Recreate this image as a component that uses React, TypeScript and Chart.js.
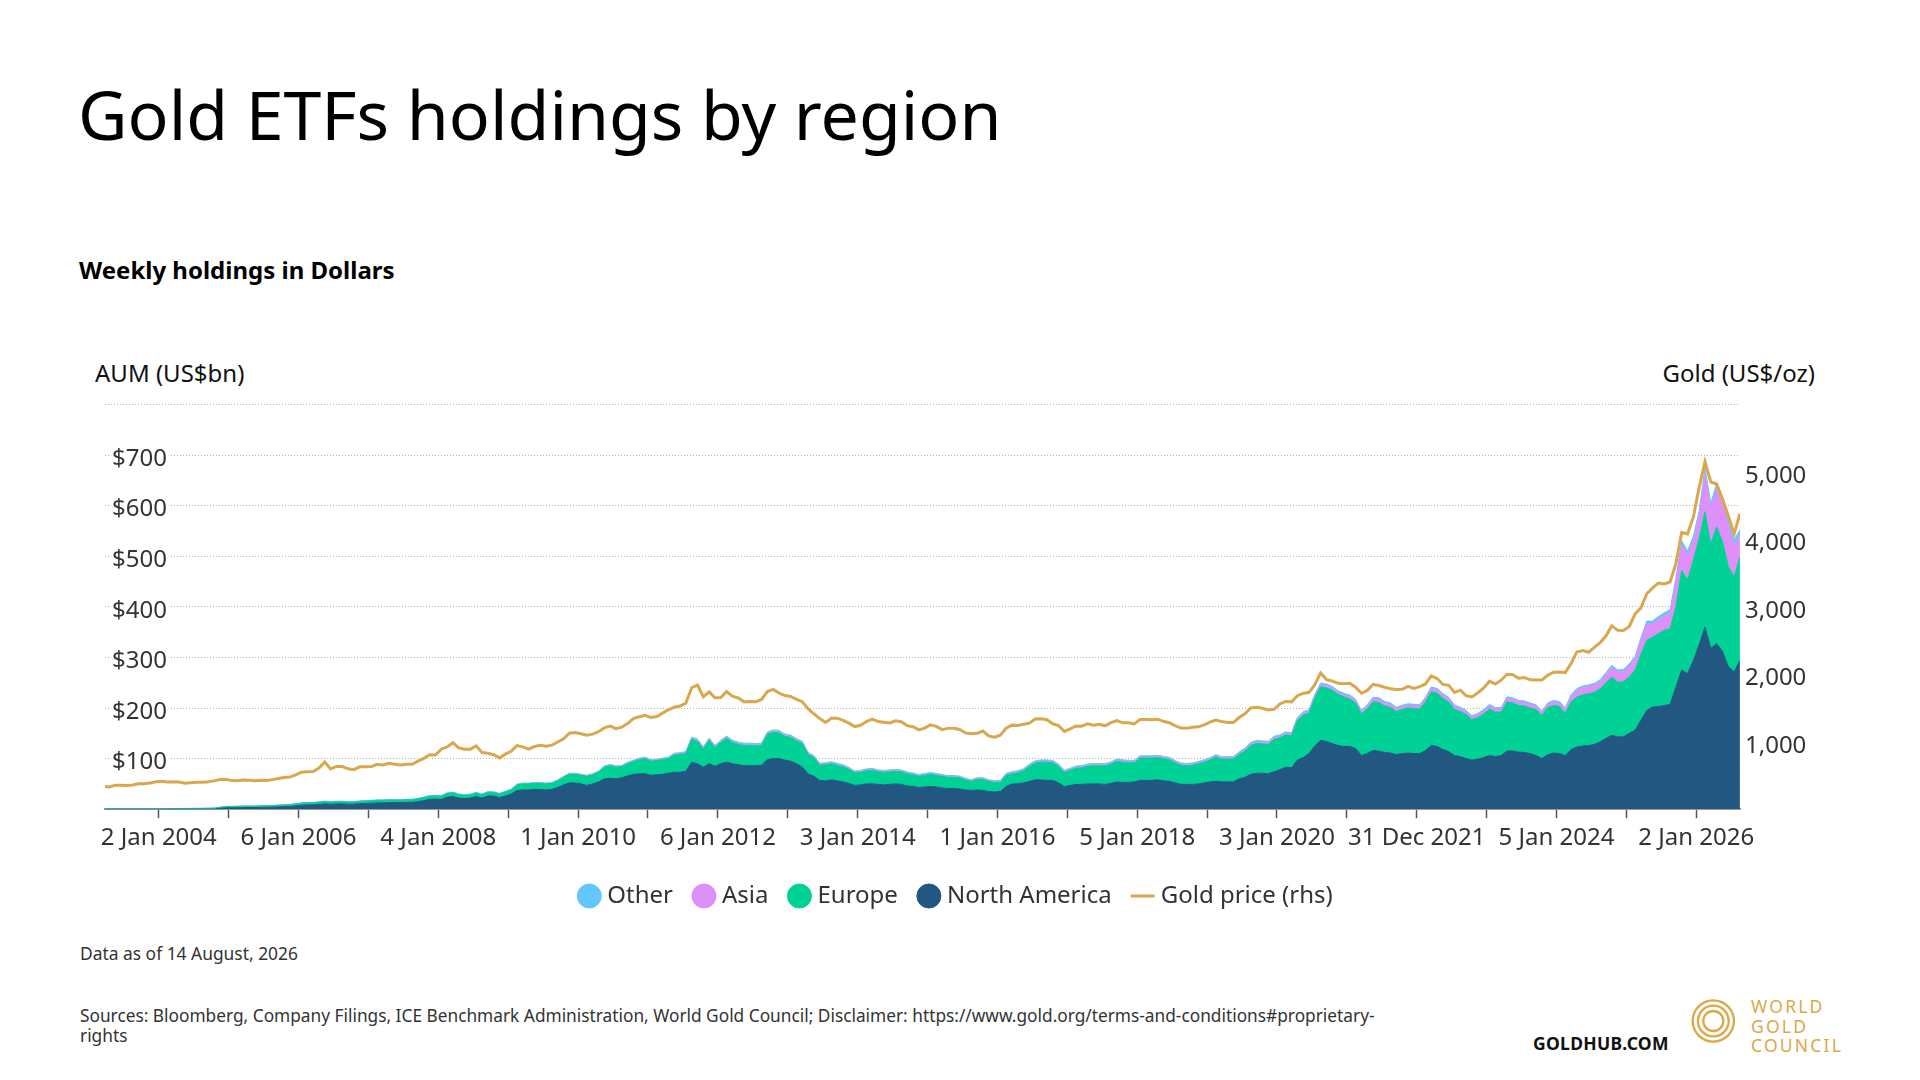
import { useEffect, useRef } from "react";
import { Chart, registerables } from "chart.js";

Chart.register(...registerables);

const FONT = '"Noto Sans", sans-serif';
Chart.defaults.font.family = FONT;

// one value per month, Mar 2003 .. Aug 2026 (one row per year), US$bn
const northAmerica = [
  /* 2003 */ [0, 0, 0, 0, 0, 0, 0, 0, 0, 0],
  /* 2004 */ [0, 0, 0, 0, 0, 0, 0, 0, 0, 0, 1.5, 2.8],
  /* 2005 */ [2.8, 3, 3.2, 3.3, 3.3, 3.6, 3.7, 3.9, 4.6, 5, 5.4, 6.5],
  /* 2006 */ [8, 8.5, 8.5, 9.5, 10.5, 10, 10.5, 10.5, 10, 10, 11, 11.5],
  /* 2007 */ [12, 12.5, 12.5, 13, 13, 13, 13.5, 13.5, 15, 17, 19.5, 20],
  /* 2008 */ [19, 24, 25, 22, 21, 22, 25, 22, 26, 26, 23, 26],
  /* 2009 */ [30, 37, 38, 38, 39, 39, 38, 39, 43, 48, 52, 52],
  /* 2010 */ [50, 47, 50, 54, 60, 61, 60, 62, 66, 69, 70, 70],
  /* 2011 */ [67, 68, 69, 71, 73, 73, 75, 93, 90, 83, 90, 85],
  /* 2012 */ [90, 93, 90, 88, 86, 86, 86, 87, 98, 100, 100, 97],
  /* 2013 */ [95, 90, 83, 70, 65, 57, 56, 58, 56, 54, 51, 47],
  /* 2014 */ [48, 50, 50, 49, 48, 49, 50, 49, 46, 45, 43, 44],
  /* 2015 */ [45, 44, 42, 41, 41, 40, 38, 37, 38, 37, 35, 34],
  /* 2016 */ [35, 45, 50, 50, 52, 55, 58, 58, 57, 57, 52, 45],
  /* 2017 */ [47, 49, 49, 50, 50, 50, 49, 51, 54, 53, 53, 54],
  /* 2018 */ [57, 57, 57, 58, 56, 55, 52, 49, 49, 49, 50, 52],
  /* 2019 */ [54, 55, 54, 54, 54, 60, 63, 69, 71, 71, 70, 74],
  /* 2020 */ [78, 83, 82, 97, 102, 110, 125, 136, 134, 130, 126, 124],
  /* 2021 */ [124, 120, 106, 110, 116, 115, 112, 111, 108, 110, 111, 110],
  /* 2022 */ [110, 116, 126, 124, 118, 114, 106, 104, 100, 97, 99, 102],
  /* 2023 */ [106, 104, 106, 115, 115, 113, 112, 110, 106, 100, 108, 111],
  /* 2024 */ [110, 106, 118, 123, 125, 126, 128, 133, 140, 146, 143, 143],
  /* 2025 */ [150, 156, 176, 195, 202, 203, 205, 207, 241, 275, 268, 294],
  /* 2026 */ [325, 360, 318, 327, 312, 282, 271, 294],
].flat();

const europe = [
  /* 2003 */ [0, 0, 0, 0, 0, 0, 0, 0, 0, 0.3],
  /* 2004 */ [0.5, 0.7, 0.9, 1.1, 1.2, 1.3, 1.4, 1.5, 1.6, 1.8, 2, 2.2],
  /* 2005 */ [2.4, 2.5, 2.6, 2.6, 2.6, 2.8, 2.8, 2.9, 3, 3.2, 3.3, 3.6],
  /* 2006 */ [3.8, 4, 4, 4.3, 4.6, 4.2, 4.4, 4.4, 4.2, 4.2, 4.5, 4.6],
  /* 2007 */ [4.7, 5, 5, 5.2, 5, 5, 5.2, 5.2, 5.5, 5.8, 6.2, 6.3],
  /* 2008 */ [6.5, 7, 7.5, 6.8, 6.5, 6.5, 7, 6.5, 7.5, 7, 7, 8],
  /* 2009 */ [8, 11, 12, 12, 12, 12, 12, 12, 13, 15, 17, 17],
  /* 2010 */ [17, 18, 18, 19, 23, 25, 23, 22, 24, 25, 28, 30],
  /* 2011 */ [28, 28, 29, 29, 34, 35, 35, 45, 44, 36, 46, 37],
  /* 2012 */ [42, 47, 42, 40, 40, 40, 39, 39, 50, 52, 51, 47],
  /* 2013 */ [47, 45, 47, 38, 37, 30, 32, 32, 31, 30, 28, 25],
  /* 2014 */ [25, 26, 27, 25, 25, 25, 25, 25, 24, 23, 22, 23],
  /* 2015 */ [24, 23, 23, 22, 22, 22, 20, 18, 21, 22, 20, 19],
  /* 2016 */ [18, 22, 20, 22, 24, 30, 33, 35, 36, 35, 33, 28],
  /* 2017 */ [30, 32, 33, 35, 36, 36, 37, 38, 41, 40, 39, 38],
  /* 2018 */ [44, 44, 44, 44, 44, 43, 40, 38, 37, 38, 40, 41],
  /* 2019 */ [43, 48, 45, 45, 45, 48, 52, 57, 59, 58, 58, 64],
  /* 2020 */ [63, 64, 63, 78, 84, 80, 95, 106, 106, 105, 101, 98],
  /* 2021 */ [94, 90, 83, 88, 96, 96, 92, 90, 85, 87, 89, 89],
  /* 2022 */ [88, 96, 106, 105, 101, 98, 91, 89, 87, 80, 82, 86],
  /* 2023 */ [92, 88, 86, 97, 95, 92, 92, 90, 91, 85, 93, 94],
  /* 2024 */ [93, 84, 94, 99, 101, 102, 103, 105, 110, 115, 108, 109],
  /* 2025 */ [112, 119, 130, 139, 138, 144, 149, 149, 159, 197, 185, 198],
  /* 2026 */ [210, 228, 205, 231, 217, 198, 188, 205],
].flat();

const asia = [
  /* 2003 */ [0, 0, 0, 0, 0, 0, 0, 0, 0, 0],
  /* 2004 */ [0, 0, 0, 0, 0, 0, 0, 0, 0, 0, 0, 0],
  /* 2005 */ [0, 0, 0, 0, 0, 0, 0, 0, 0, 0, 0, 0],
  /* 2006 */ [0, 0, 0, 0, 0, 0, 0, 0, 0, 0, 0, 0],
  /* 2007 */ [0, 0, 0, 0, 0, 0, 0, 0, 0.1, 0.1, 0.1, 0.1],
  /* 2008 */ [0.1, 0.1, 0.1, 0.1, 0.1, 0.1, 0.1, 0.1, 0.2, 0.2, 0.2, 0.2],
  /* 2009 */ [0.2, 0.3, 0.3, 0.3, 0.3, 0.3, 0.3, 0.3, 0.4, 0.4, 0.4, 0.4],
  /* 2010 */ [0.5, 0.5, 0.5, 0.6, 0.6, 0.7, 0.7, 0.7, 0.8, 0.8, 0.9, 0.9],
  /* 2011 */ [1, 1, 1, 1, 1.2, 1.2, 1.3, 1.5, 1.5, 1.4, 1.5, 1.4],
  /* 2012 */ [1.5, 1.5, 1.5, 1.5, 1.5, 1.5, 1.5, 1.5, 1.6, 1.6, 1.6, 1.5],
  /* 2013 */ [1.5, 1.5, 1.5, 1.4, 1.4, 1.3, 1.3, 1.3, 1.3, 1.3, 1.3, 1.2],
  /* 2014 */ [1.3, 1.3, 1.3, 1.3, 1.3, 1.3, 1.3, 1.3, 1.3, 1.3, 1.2, 1.2],
  /* 2015 */ [1.3, 1.3, 1.3, 1.3, 1.3, 1.3, 1.2, 1.2, 1.2, 1.2, 1.2, 1.2],
  /* 2016 */ [1.4, 1.5, 1.6, 1.6, 1.6, 1.7, 1.8, 1.8, 1.8, 1.8, 1.7, 1.6],
  /* 2017 */ [1.7, 1.8, 1.8, 1.8, 1.8, 1.8, 1.8, 1.9, 1.9, 1.9, 1.9, 1.9],
  /* 2018 */ [2, 2, 2, 2, 2, 2, 2, 2, 2, 2, 2, 2.1],
  /* 2019 */ [2.2, 2.3, 2.3, 2.3, 2.4, 2.6, 2.8, 3, 3.2, 3.2, 3.2, 3.4],
  /* 2020 */ [3, 3.2, 3.2, 3.5, 3.8, 3.8, 4, 4.2, 4.2, 4.2, 4, 4],
  /* 2021 */ [4.5, 4.5, 4, 5, 6, 6.5, 6, 6, 5.5, 5.5, 5.5, 5.5],
  /* 2022 */ [5.5, 6, 6.5, 6.5, 6.5, 6, 6, 5.5, 5.5, 5, 5.5, 6],
  /* 2023 */ [6.5, 6, 6, 7, 7, 7, 7, 7, 6.5, 6, 6.5, 7],
  /* 2024 */ [7, 7, 11, 13, 14, 14, 14, 14, 16, 19, 20, 20],
  /* 2025 */ [21, 22, 27, 32, 26, 28, 28, 32, 49, 50, 49, 38],
  /* 2026 */ [45, 75, 70, 74, 73, 80, 62, 42],
].flat();

const other = [
  /* 2003 */ [0.2, 0.2, 0.2, 0.3, 0.3, 0.3, 0.3, 0.3, 0.4, 0.4],
  /* 2004 */ [0.4, 0.4, 0.4, 0.4, 0.4, 0.5, 0.5, 0.5, 0.5, 0.6, 0.6, 0.6],
  /* 2005 */ [0.6, 0.6, 0.6, 0.6, 0.6, 0.6, 0.6, 0.6, 0.7, 0.7, 0.7, 0.8],
  /* 2006 */ [0.8, 0.8, 0.8, 0.9, 0.9, 0.9, 0.9, 0.9, 0.9, 0.9, 1, 1],
  /* 2007 */ [1, 1, 1, 1, 1, 1, 1, 1, 1, 1.1, 1.1, 1.1],
  /* 2008 */ [1.2, 1.2, 1.2, 1.2, 1.2, 1.2, 1.2, 1.2, 1.2, 1.2, 1.2, 1.3],
  /* 2009 */ [1.3, 1.4, 1.4, 1.4, 1.4, 1.5, 1.5, 1.5, 1.5, 1.6, 1.7, 1.7],
  /* 2010 */ [1.7, 1.7, 1.8, 1.8, 1.9, 2, 2, 2, 2, 2.1, 2.1, 2.1],
  /* 2011 */ [2, 2, 2, 2, 2.5, 2.5, 2.5, 3, 3, 2.8, 3, 2.8],
  /* 2012 */ [3, 3, 3, 3, 3, 3, 3, 3, 3, 3, 3, 3],
  /* 2013 */ [3, 3, 3, 2.8, 2.6, 2.5, 2.5, 2.5, 2.5, 2.5, 2.5, 2.4],
  /* 2014 */ [2.4, 2.4, 2.4, 2.4, 2.4, 2.4, 2.4, 2.4, 2.3, 2.3, 2.3, 2.3],
  /* 2015 */ [2.3, 2.3, 2.2, 2.2, 2.2, 2.2, 2.2, 2.1, 2.1, 2.1, 2.1, 2.1],
  /* 2016 */ [2.3, 2.4, 2.5, 2.5, 2.5, 2.5, 2.6, 2.6, 2.6, 2.6, 2.5, 2.4],
  /* 2017 */ [2.4, 2.5, 2.5, 2.5, 2.5, 2.5, 2.5, 2.5, 2.6, 2.6, 2.6, 2.6],
  /* 2018 */ [2.6, 2.6, 2.6, 2.6, 2.5, 2.5, 2.4, 2.4, 2.4, 2.4, 2.4, 2.5],
  /* 2019 */ [2.5, 2.5, 2.5, 2.5, 2.5, 2.6, 2.7, 2.8, 2.8, 2.8, 2.8, 2.8],
  /* 2020 */ [2.6, 2.7, 2.6, 2.8, 2.9, 2.9, 3, 3.2, 3.2, 3.2, 3.1, 3.1],
  /* 2021 */ [3.1, 3, 2.8, 2.9, 3, 3, 3, 3, 2.9, 2.9, 2.9, 2.9],
  /* 2022 */ [2.9, 3, 3.1, 3.1, 3, 3, 2.9, 2.8, 2.7, 2.6, 2.7, 2.8],
  /* 2023 */ [2.9, 2.8, 2.9, 3, 3, 3, 3, 2.9, 2.8, 2.7, 2.8, 2.9],
  /* 2024 */ [2.9, 2.9, 3.2, 3.5, 3.6, 3.6, 3.7, 3.8, 4, 4.3, 4.2, 4.2],
  /* 2025 */ [4.4, 4.8, 5.3, 5.8, 5.9, 6, 6, 6.3, 7.5, 8.5, 8.5, 8.8],
  /* 2026 */ [10, 12, 11, 12, 12, 11, 11, 11],
].flat();

// US$/oz
const goldPrice = [
  /* 2003 */ [340, 328, 355, 356, 351, 359, 378, 379, 389, 407],
  /* 2004 */ [414, 405, 406, 404, 384, 392, 398, 400, 406, 420, 439, 442],
  /* 2005 */ [424, 423, 434, 429, 422, 430, 424, 438, 456, 470, 476, 510],
  /* 2006 */ [549, 555, 557, 610, 700, 596, 633, 632, 598, 586, 628, 629],
  /* 2007 */ [631, 665, 655, 679, 667, 655, 665, 665, 712, 754, 806, 803],
  /* 2008 */ [889, 922, 985, 909, 888, 890, 939, 839, 829, 807, 760, 816],
  /* 2009 */ [858, 943, 924, 890, 929, 946, 934, 949, 996, 1043, 1127, 1135],
  /* 2010 */ [1118, 1095, 1113, 1148, 1205, 1232, 1193, 1215, 1271, 1343, 1370, 1391],
  /* 2011 */ [1360, 1374, 1424, 1474, 1512, 1529, 1573, 1800, 1840, 1665, 1739, 1652],
  /* 2012 */ [1656, 1743, 1675, 1649, 1591, 1598, 1594, 1626, 1744, 1775, 1722, 1685],
  /* 2013 */ [1671, 1627, 1593, 1487, 1414, 1343, 1286, 1347, 1349, 1316, 1275, 1225],
  /* 2014 */ [1244, 1300, 1336, 1299, 1288, 1279, 1311, 1296, 1239, 1222, 1176, 1201],
  /* 2015 */ [1251, 1227, 1179, 1198, 1199, 1181, 1131, 1117, 1125, 1159, 1086, 1068],
  /* 2016 */ [1097, 1200, 1246, 1242, 1260, 1276, 1337, 1341, 1326, 1266, 1238, 1152],
  /* 2017 */ [1192, 1234, 1231, 1267, 1246, 1260, 1236, 1283, 1314, 1280, 1282, 1265],
  /* 2018 */ [1331, 1331, 1325, 1334, 1303, 1282, 1238, 1202, 1199, 1215, 1221, 1250],
  /* 2019 */ [1291, 1320, 1300, 1286, 1284, 1359, 1413, 1500, 1510, 1495, 1471, 1480],
  /* 2020 */ [1560, 1597, 1591, 1683, 1716, 1732, 1846, 2020, 1921, 1900, 1866, 1858],
  /* 2021 */ [1867, 1808, 1718, 1760, 1850, 1834, 1807, 1785, 1775, 1777, 1821, 1790],
  /* 2022 */ [1817, 1856, 1975, 1937, 1849, 1836, 1732, 1765, 1681, 1664, 1726, 1798],
  /* 2023 */ [1898, 1854, 1912, 2000, 1992, 1942, 1951, 1918, 1916, 1916, 1986, 2031],
  /* 2024 */ [2034, 2024, 2159, 2331, 2352, 2326, 2398, 2470, 2570, 2720, 2651, 2648],
  /* 2025 */ [2709, 2895, 2984, 3193, 3280, 3352, 3340, 3368, 3640, 4100, 4080, 4330],
  /* 2026 */ [4770, 5150, 4850, 4820, 4600, 4350, 4080, 4380],
].flat();

// x position of each month (mid-month, in years), first month is March 2003
const monthX = goldPrice.map((_, i) => 2003 + (2.5 + i) / 12);

const tickYears = [
  2004, 2005, 2006, 2007, 2008, 2009, 2010, 2011, 2012, 2013, 2014, 2015,
  2016, 2017, 2018, 2019, 2020, 2021, 2022, 2023, 2024, 2025, 2026,
];
const tickLabels: Record<number, string> = {
  2004: "2 Jan 2004",
  2006: "6 Jan 2006",
  2008: "4 Jan 2008",
  2010: "1 Jan 2010",
  2012: "6 Jan 2012",
  2014: "3 Jan 2014",
  2016: "1 Jan 2016",
  2018: "5 Jan 2018",
  2020: "3 Jan 2020",
  2022: "31 Dec 2021",
  2024: "5 Jan 2024",
  2026: "2 Jan 2026",
};

const COLORS = {
  na: "#225782",
  europe: "#00d195",
  asia: "#df8ff8",
  other: "#63c7f9",
  gold: "#d9a84e",
  logo: "#dba847",
};

// legend order: Other, Asia, Europe, North America, Gold
const legendRank = [3, 2, 1, 0, 4];

function area(label: string, values: number[], color: string, fill: string) {
  return {
    label,
    data: values.map((v, i) => ({ x: monthX[i], y: v })),
    backgroundColor: color,
    borderColor: color,
    borderWidth: 1,
    pointRadius: 0,
    pointHoverRadius: 0,
    pointStyle: "circle",
    fill,
    tension: 0,
    yAxisID: "y",
    order: 0,
  };
}

function Label(props: {
  x?: number;
  right?: number;
  baseline: number;
  size: number;
  weight?: number;
  color?: string;
  spacing?: number;
  children: any;
}) {
  const { x, right, baseline, size, weight = 400, color = "#000", spacing = 0 } = props;
  const style: any = {
    position: "absolute",
    top: baseline - 0.888 * size,
    fontSize: size,
    lineHeight: 1,
    fontWeight: weight,
    color,
    whiteSpace: "nowrap",
    letterSpacing: spacing,
  };
  if (right !== undefined) {
    style.right = 1920 - right;
    style.textAlign = "right";
  } else {
    style.left = x;
  }
  return <div style={style}>{props.children}</div>;
}

export default function App() {
  const chartRef = useRef<HTMLCanvasElement | null>(null);

  useEffect(() => {
    if (!chartRef.current) return;
    const chartInstance = new Chart(chartRef.current, {
      type: "line",
      data: {
        datasets: [
          area("North America", northAmerica, COLORS.na, "origin"),
          area("Europe", europe, COLORS.europe, "-1"),
          area("Asia", asia, COLORS.asia, "-1"),
          area("Other", other, COLORS.other, "-1"),
          {
            label: "Gold price (rhs)",
            data: goldPrice.map((v, i) => ({ x: monthX[i], y: v })),
            borderColor: COLORS.gold,
            backgroundColor: COLORS.gold,
            borderWidth: 3,
            pointRadius: 0,
            pointHoverRadius: 0,
            pointBorderWidth: 3,
            pointStyle: "line",
            fill: false,
            tension: 0,
            yAxisID: "y1",
            order: -1,
          },
        ] as any,
      },
      options: {
        animation: false,
        responsive: true,
        maintainAspectRatio: false,
        events: [],
        layout: { padding: { left: 10, right: 0, top: 0, bottom: 0 } },
        plugins: {
          tooltip: { enabled: false },
          legend: {
            position: "bottom",
            labels: {
              usePointStyle: true,
              boxWidth: 12,
              boxHeight: 17,
              padding: 25,
              color: "#333",
              font: { size: 24, family: FONT },
              sort: (a: any, b: any) => legendRank[a.datasetIndex] - legendRank[b.datasetIndex],
            },
          },
        },
        scales: {
          x: {
            type: "linear",
            min: 2003.23,
            max: 2026.626,
            afterBuildTicks: (scale: any) => {
              scale.ticks = tickYears.map((v) => ({ value: v }));
            },
            ticks: {
              autoSkip: false,
              maxRotation: 0,
              minRotation: 0,
              padding: 6,
              color: "#333",
              font: { size: 24, family: FONT },
              callback: (v: any) => tickLabels[v as number] ?? "",
            },
            grid: {
              display: true,
              drawOnChartArea: false,
              drawTicks: true,
              tickLength: 9,
              tickColor: "#555",
              tickWidth: 1.5,
            },
            border: { display: true, color: "#9a9a9a", width: 2 },
          },
          y: {
            position: "left",
            stacked: true,
            min: 0,
            max: 800,
            afterFit: (scale: any) => {
              scale.width = 19;
            },
            ticks: {
              stepSize: 100,
              mirror: true,
              padding: 7,
              labelOffset: 4,
              color: "#333",
              font: { size: 24, family: FONT },
              showLabelBackdrop: true,
              backdropColor: (ctx: any) =>
                ctx.tick && (ctx.tick.value === 0 || ctx.tick.value === 800)
                  ? "rgba(0,0,0,0)"
                  : "#ffffff",
              backdropPadding: { x: 2, y: 0 },
              callback: (v: any) => (v === 0 || v === 800 ? "" : "$" + v),
            },
            grid: {
              drawTicks: false,
              lineWidth: 1,
              color: (ctx: any) =>
                ctx.tick && ctx.tick.value === 0 ? "rgba(0,0,0,0)" : "#b4b4b4",
            },
            border: { display: false, dash: [1, 2] },
          },
          y1: {
            position: "right",
            min: 0,
            max: 6000,
            afterFit: (scale: any) => {
              scale.width = 90;
            },
            ticks: {
              stepSize: 1000,
              padding: 5,
              labelOffset: 4,
              color: "#333",
              font: { size: 24, family: FONT },
              callback: (v: any) =>
                v === 0 || v === 6000 ? "" : Number(v).toLocaleString("en-US"),
            },
            grid: { display: false, drawTicks: false },
            border: { display: false },
          },
        },
      } as any,
    });
    return () => {
      chartInstance.destroy();
    };
  }, []);

  return (
    <div
      style={{
        position: "absolute",
        left: 0,
        top: 0,
        width: 1920,
        height: 1080,
        background: "#ffffff",
        fontFamily: FONT,
        overflow: "hidden",
      }}
    >
      <Label x={78} baseline={140} size={68}>
        Gold ETFs holdings by region
      </Label>
      <Label x={79} baseline={279} size={24} weight={700}>
        Weekly holdings in Dollars
      </Label>
      <Label x={95} baseline={382} size={24} color="#111">
        AUM (US$bn)
      </Label>
      <Label right={1815} baseline={382} size={24} color="#111">
        Gold (US$/oz)
      </Label>

      <div style={{ position: "absolute", left: 76, top: 383, width: 1754, height: 535 }}>
        <canvas ref={chartRef} />
      </div>

      <Label x={80} baseline={960} size={17.4} color="#333">
        Data as of 14 August, 2026
      </Label>
      <Label x={80} baseline={1022} size={17.3} color="#333">
        Sources: Bloomberg, Company Filings, ICE Benchmark Administration, World Gold Council;
        Disclaimer: https://www.gold.org/terms-and-conditions#proprietary-
      </Label>
      <Label x={80} baseline={1042} size={17.3} color="#333">
        rights
      </Label>

      <Label x={1533} baseline={1051} size={17.5} weight={700} color="#111" spacing={0.3}>
        GOLDHUB.COM
      </Label>
      <svg
        style={{ position: "absolute", left: 1680, top: 988 }}
        width={68}
        height={68}
      >
        {[20.6, 15.4, 10].map((r) => (
          <circle key={r} cx={33.3} cy={33} r={r} fill="none" stroke={COLORS.logo} strokeWidth={2.3} />
        ))}
      </svg>
      <Label x={1751} baseline={1014} size={17.5} color={COLORS.logo} spacing={2.2}>
        WORLD
      </Label>
      <Label x={1751} baseline={1034} size={17.5} color={COLORS.logo} spacing={2.2}>
        GOLD
      </Label>
      <Label x={1751} baseline={1053} size={17.5} color={COLORS.logo} spacing={2.2}>
        COUNCIL
      </Label>
    </div>
  );
}
